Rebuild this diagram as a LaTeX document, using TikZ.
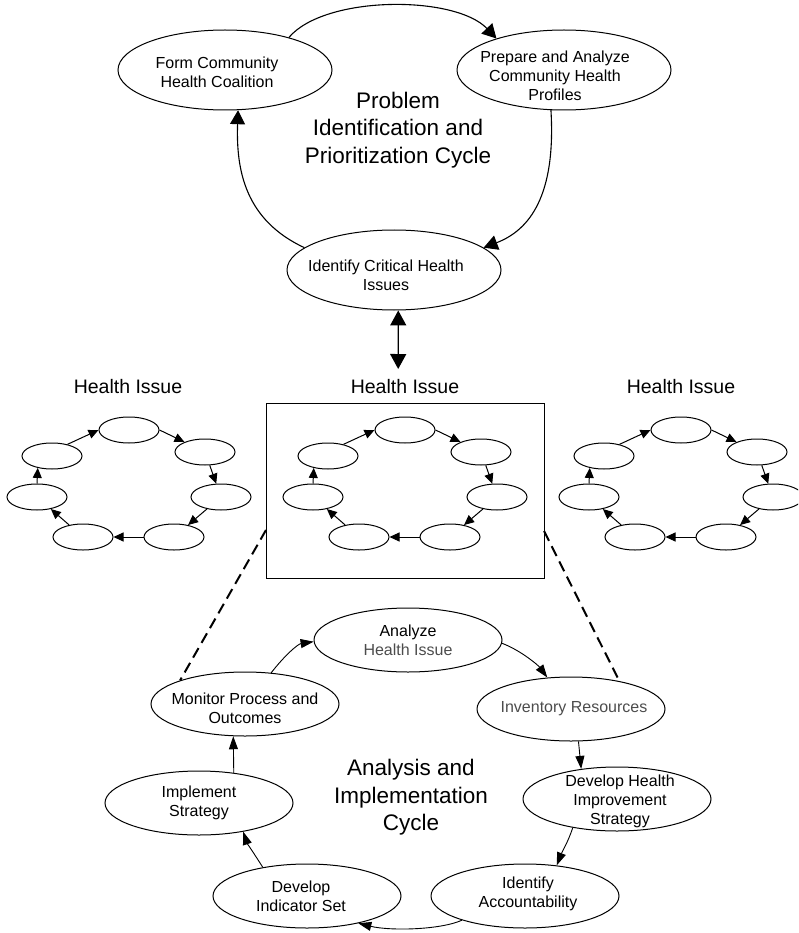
\documentclass[tikz,border=0pt]{standalone}
\usepackage{fontspec}
\setmainfont{Liberation Sans}
\usetikzlibrary{shapes.geometric,arrows.meta}
\tikzset{
  x=1pt,y=1pt,
  bigell/.style={draw, ellipse, line width=1pt, minimum width=214pt, minimum height=80pt, inner sep=0pt},
  midell/.style={draw, ellipse, line width=1pt, minimum width=188pt, minimum height=64pt, inner sep=0pt},
  minell/.style={draw, ellipse, line width=1pt, minimum width=60pt, minimum height=26pt, inner sep=0pt},
  etext/.style={align=center, inner sep=0pt, font=\fontsize{16}{19}\selectfont},
  ttext/.style={align=center, inner sep=0pt, font=\fontsize{22.5}{27.5}\selectfont},
  htext/.style={inner sep=0pt, font=\fontsize{19.5}{23}\selectfont},
  toparr/.style={line width=1.1pt, -{Triangle[length=14pt,width=15pt]}},
  dblarr/.style={line width=1.4pt, {Triangle[length=15pt,width=16pt]}-{Triangle[length=15pt,width=16pt]}},
  botarr/.style={line width=0.9pt, -{Triangle[length=13pt,width=9pt]}},
  minarr/.style={line width=1pt, -{Triangle[length=10pt,width=9pt]}},
  dashln/.style={line width=2pt, dash pattern=on 11pt off 6pt},
}
\begin{document}
\begin{tikzpicture}
\useasboundingbox (0,0) rectangle (798,-933);
\clip (0,0) rectangle (798,-933);

% ---------- top cycle ----------
\node[bigell, label={[etext,xshift=-8pt,yshift=-2pt]center:{Form Community\\Health Coalition}}] (form) at (225,-70) {};
\node[bigell, label={[etext,xshift=-9pt,yshift=-6pt]center:{Prepare and Analyze\\Community Health\\Profiles}}] (prep) at (564,-70) {};
\node[bigell, label={[etext,xshift=-8pt,yshift=-5pt]center:{Identify Critical Health\\Issues}}] (crit) at (394,-270) {};
\node[ttext] (t1) at (398,-129.7) {Problem\\Identification and\\Prioritization Cycle};

\draw[toparr] (form.27) .. controls (325,5) and (455,5) .. (prep.155);
\draw[toparr] (prep.252) .. controls (556,-195) and (530,-230) .. (crit.14);
\draw[toparr] (crit.166) .. controls (245,-220) and (236,-170) .. (form.288);

\coordinate (dbt) at (398.2,-369);
\draw[dblarr] (crit.276) -- (dbt);

% ---------- health issue mini cycles ----------
\node[htext] (h1) at (128,-387) {Health Issue};
\node[htext] (h2) at (405,-387) {Health Issue};
\node[htext] (h3) at (681,-387) {Health Issue};
\node[draw, line width=1pt, minimum width=278pt, minimum height=175pt, inner sep=0pt] (box) at (405,-490.5) {};

\foreach \p/\dx in {L/-276,M/0,R/276}{
  \begin{scope}[xshift=\dx pt]
    \node[minell] (\p1) at (405,-430) {};
    \node[minell] (\p2) at (481,-452) {};
    \node[minell] (\p3) at (497,-497) {};
    \node[minell] (\p4) at (450,-537) {};
    \node[minell] (\p5) at (359,-537) {};
    \node[minell] (\p6) at (313,-497) {};
    \node[minell] (\p7) at (328,-456) {};
  \end{scope}
  \draw[minarr] (\p7.37) -- (\p1.west);
  \draw[minarr] (\p1.east) -- (\p2.154);
  \draw[minarr] (\p2) -- (\p3);
  \draw[minarr] (\p3) -- (\p4);
  \draw[minarr] (\p4) -- (\p5);
  \draw[minarr] (\p5) -- (\p6);
  \draw[minarr] (\p6.north) -- (\p7.220);
}

% ---------- bottom cycle ----------
\node[midell, label={[etext]center:{Analyze\\\textcolor{black!70}{Health Issue}}}] (ana) at (408,-640) {};
\node[midell, label={[etext,xshift=3pt]center:{\textcolor{black!70}{Inventory Resources}}}] (inv) at (571,-709) {};
\node[midell, label={[etext,xshift=3pt,yshift=-2pt]center:{Develop Health\\Improvement\\Strategy}}] (dev) at (617,-799) {};
\node[midell, label={[etext,xshift=3pt,yshift=2pt]center:{Identify\\Accountability}}] (acc) at (525,-896) {};
\node[midell, label={[etext,xshift=-6pt]center:{Develop\\Indicator Set}}] (ind) at (307,-896) {};
\node[midell, label={[etext]center:{Implement\\Strategy}}] (imp) at (199,-803) {};
\node[midell, label={[etext,yshift=-4pt]center:{Monitor Process and\\Outcomes}}] (mon) at (245,-704) {};
\node[ttext] (t2) at (411,-797.5) {Analysis and\\Implementation\\Cycle};

\draw[botarr] (mon.50) .. controls (285,-655) and (298,-644) .. (ana.181);
\draw[botarr] (ana.-2) .. controls (520,-650) and (538,-665) .. (inv.127);
\draw[botarr] (inv.283) -- (dev.140);
\draw[botarr] (dev.213) .. controls (568,-842) and (562,-852) .. (acc.44);
\draw[botarr] (acc.201) .. controls (440,-930) and (390,-931) .. (ind.332);
\draw[botarr] (ind.147) .. controls (255,-855) and (247,-843) .. (imp.327);
\draw[botarr] (imp.41) -- (mon.250);

% ---------- dashed zoom lines ----------
\coordinate (dl) at (266,-530);
\coordinate (dr) at (544,-531);
\draw[dashln] (dl) -- (mon.160);
\draw[dashln] (dr) -- (inv.30);
\end{tikzpicture}
\end{document}
